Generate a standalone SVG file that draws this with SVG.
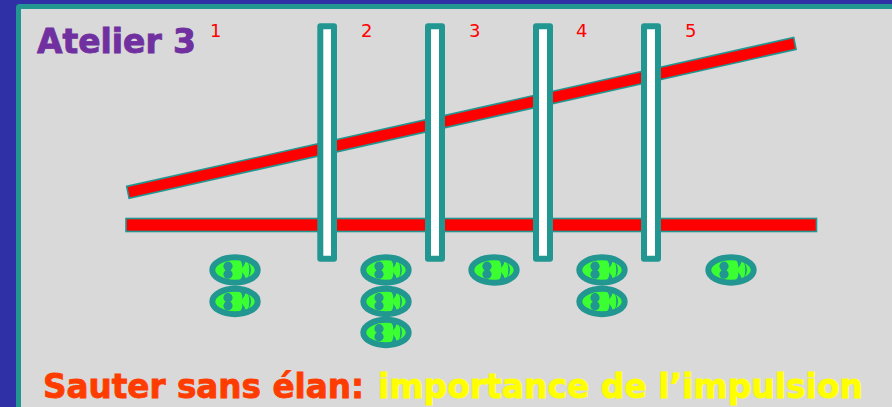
<svg xmlns="http://www.w3.org/2000/svg" xmlns:xlink="http://www.w3.org/1999/xlink" width="892" height="407" viewBox="0 0 892 407">
<style>
.post{fill:#fff;stroke:#229691;stroke-width:6;stroke-linejoin:round}
.bar{fill:#f00;stroke:#229691;stroke-width:1.600}
.num{font-family:"DejaVu Sans",sans-serif;font-size:18px;fill:#f00}
.big{font-family:"DejaVu Sans",sans-serif;font-weight:700;stroke-width:0.900}
.dot{fill:#229691}
</style>
<defs>
<g id="p">
<ellipse cx="0" cy="0" rx="22.700" ry="12.700" fill="#3cff32" stroke="#229691" stroke-width="6"/>
<circle class="dot" cx="-7" cy="-3.800" r="4.600"/>
<circle class="dot" cx="-7" cy="4.200" r="4.600"/>
<path class="dot" d="M5-10Q8-6 7-2Q10-5 11-10Z"/>
<path class="dot" d="M5 10Q8 6 7 2Q10 5 11 10Z"/>
<path class="dot" d="M13-8Q19 0 13 8Q15.500 0 13-8Z"/>
</g>
</defs>
<rect id="background" width="892" height="407" fill="#2f2fa6"/>
<rect id="panel" x="18.500" y="6.500" width="890" height="420" rx="1" fill="#d9d9d9" stroke="#229691" stroke-width="5"/>
<g id="bars">
<rect class="bar" x="126" y="218.500" width="690.500" height="13"/>
<path class="bar" d="M126.700 186.400L793.700 37.500L796.100 49.300L129.100 198.200Z"/>
</g>
<g id="posts">
<rect id="post1" class="post" x="320.300" y="26.300" width="13.700" height="232.500"/>
<rect id="post2" class="post" x="428" y="26.300" width="14" height="232.500"/>
<rect id="post3" class="post" x="536" y="26.300" width="14" height="232.500"/>
<rect id="post4" class="post" x="644" y="26.300" width="14" height="232.500"/>
</g>
<g id="people">
<use xlink:href="#p" href="#p" x="235" y="270"/>
<use xlink:href="#p" href="#p" x="235" y="301.500"/>
<use xlink:href="#p" href="#p" x="386" y="270"/>
<use xlink:href="#p" href="#p" x="386" y="301.500"/>
<use xlink:href="#p" href="#p" x="386" y="332.500"/>
<use xlink:href="#p" href="#p" x="494" y="270"/>
<use xlink:href="#p" href="#p" x="602" y="270"/>
<use xlink:href="#p" href="#p" x="602" y="301.500"/>
<use xlink:href="#p" href="#p" x="731" y="270"/>
</g>
<g id="labels">
<text class="big" x="37" y="53" font-size="34" fill="#7030a0" stroke="#7030a0" textLength="159" lengthAdjust="spacingAndGlyphs">Atelier 3</text>
<text class="num" x="210" y="37">1</text>
<text class="num" x="361" y="37">2</text>
<text class="num" x="469" y="37">3</text>
<text class="num" x="576" y="37">4</text>
<text class="num" x="685" y="37">5</text>
<text class="big" x="43" y="398" font-size="34" fill="#ff3c00" stroke="#ff3c00" textLength="321" lengthAdjust="spacingAndGlyphs">Sauter sans élan:</text>
<text class="big" x="378" y="398" font-size="34" fill="#ff0" stroke="#ff0" textLength="485" lengthAdjust="spacingAndGlyphs">importance de l’impulsion</text>
</g>
</svg>
